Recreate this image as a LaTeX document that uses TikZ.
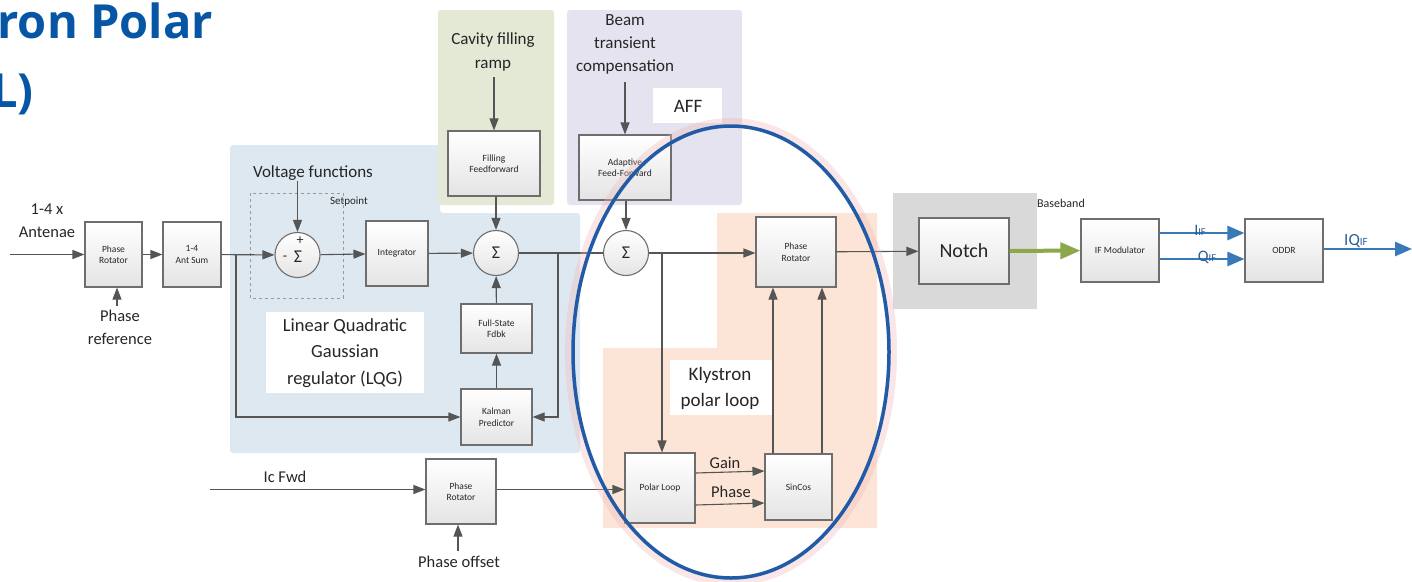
\documentclass[tikz,border=0pt]{standalone}
\usepackage{fontspec}
\setmainfont{Carlito}
\newfontfamily\titlefont{Open Sans}
\usetikzlibrary{arrows.meta,calc}
\definecolor{bgblue}{HTML}{DEE8F1}
\definecolor{bggreen}{HTML}{E3E9D5}
\definecolor{bgpurple}{HTML}{E5E3EF}
\definecolor{bgorange}{HTML}{FCE5D7}
\definecolor{bggray}{HTML}{D9D9D9}
\definecolor{titleblue}{HTML}{0756A5}
\definecolor{ellblue}{HTML}{1F5BA6}
\definecolor{glowpink}{HTML}{F2B8B8}
\definecolor{grn}{HTML}{8CA84A}
\definecolor{iqblue}{HTML}{3A79B8}
\definecolor{iqtext}{HTML}{2C5F95}
\definecolor{boxline}{HTML}{6E6E6E}
\definecolor{boxbot}{HTML}{E4E4E4}
\definecolor{arrc}{HTML}{555555}
\definecolor{txt}{HTML}{262626}
\tikzset{
  blk/.style={draw=boxline, line width=1.1pt, top color=white, bottom color=boxbot, align=center, inner sep=0pt, text=txt, font=\fontsize{9.5}{11.5}\selectfont},
  sumc/.style={circle, draw=boxline, line width=1.1pt, top color=white, bottom color=boxbot, minimum size=45pt, inner sep=0pt, text=txt, font=\fontsize{18}{20}\selectfont},
  arr/.style={draw=arrc, line width=1.1pt, -{Triangle[length=12pt,width=9pt]}},
  ln/.style={draw=arrc, line width=1.1pt},
  lbl/.style={align=center, text=txt, inner sep=0pt, font=\fontsize{16.5}{23}\selectfont},
  iqarr/.style={draw=iqblue, line width=2.6pt, -{Triangle[length=17pt,width=14pt]}},
  iqlbl/.style={text=iqtext, inner sep=0pt, font=\fontsize{16}{18}\selectfont},
}
\begin{document}
\begin{tikzpicture}[x=1pt,y=-1pt]
\useasboundingbox (0,0) rectangle (1412,581);
% backgrounds
\fill[bgblue, rounded corners=3pt] (230,145) -- (440,145) -- (440,213) -- (580,213) -- (580,453) -- (230,453) -- cycle;
\fill[bggreen, rounded corners=3pt] (438,10) rectangle (554,205);
\fill[bgpurple, rounded corners=3pt] (567,10) rectangle (742,205);
\fill[bgorange] (717,213) -- (877,213) -- (877,528) -- (603,528) -- (603,348) -- (717,348) -- cycle;
\fill[bggray] (893,193) rectangle (1037,309);
\fill[white] (266,312) rectangle (424,393);
\fill[white] (670,360) rectangle (772,415);
\fill[white] (653,88) rectangle (722,123);
% title
\node[anchor=base east, inner sep=0pt, text=titleblue, font=\titlefont\bfseries\fontsize{47}{56}\selectfont] (t1) at (213,38) {ron Polar};
\node[anchor=base east, inner sep=0pt, text=titleblue, font=\titlefont\bfseries\fontsize{47}{56}\selectfont] (t2) at (34,107) {L)};
% labels
\node[lbl] (ant4) at (47,221) {1-4 x\\Antenae};
\node[lbl] (pref) at (120,327) {Phase\\reference};
\node[lbl, font=\fontsize{17}{20}\selectfont] (vf) at (313,173) {Voltage functions};
\node[lbl, font=\fontsize{11}{13}\selectfont] (setp) at (349,202) {Setpoint};
\node[lbl, font=\fontsize{17}{24}\selectfont] (cav) at (493,52) {Cavity filling\\ramp};
\node[lbl, font=\fontsize{17}{23}\selectfont] (beam) at (625,44) {Beam\\transient\\compensation};
\node[lbl, font=\fontsize{19}{22}\selectfont] (affl) at (688,106) {AFF};
\node[lbl, font=\fontsize{18.5}{26.5}\selectfont] (lqg) at (345,353) {Linear Quadratic\\Gaussian\\regulator (LQG)};
\node[lbl, font=\fontsize{19}{26}\selectfont] (kpl) at (720,388) {Klystron\\polar loop};
\node[lbl, font=\fontsize{12}{14}\selectfont] (bb) at (1061,203) {Baseband};
\node[lbl] (icf) at (285,477) {Ic Fwd};
\node[lbl] (poff) at (459,562) {Phase offset};
\node[lbl] (gain) at (725,463) {Gain};
\node[lbl] (phs) at (731,492) {Phase};
% dashed setpoint box
\draw[gray!80, dashed, line width=0.8pt] (250,193) rectangle (343,298);
% blocks
\node[blk, minimum width=57pt, minimum height=65pt] (pr1) at (113.5,254.5) {Phase\\Rotator};
\node[blk, minimum width=58pt, minimum height=65pt] (ants) at (192,254.5) {1-4\\Ant Sum};
\node[sumc] (s1) at (297.5,255) {};
\node[inner sep=0pt, text=txt, font=\fontsize{18}{20}\selectfont] (s1sig) at (298,257) {Σ};
\node[inner sep=0pt, text=txt, font=\fontsize{14}{16}\selectfont] (s1p) at (300,241) {+};
\node[inner sep=0pt, text=txt, font=\fontsize{14}{16}\selectfont] (s1m) at (285,258) {-};
\node[blk, minimum width=62pt, minimum height=65pt] (int) at (397,253.5) {Integrator};
\node[sumc] (s2) at (496,253) {Σ};
\node[blk, minimum width=92pt, minimum height=65pt] (ffw) at (494,163.5) {Filling\\Feedforward};
\node[blk, minimum width=71pt, minimum height=49pt] (fsf) at (496.5,328.5) {Full-State\\Fdbk};
\node[blk, minimum width=71pt, minimum height=56pt] (kal) at (496.5,417) {Kalman\\Predictor};
\node[sumc] (s3) at (626,253) {Σ};
\node[blk, minimum width=92pt, minimum height=65pt] (aff) at (625,167.5) {Adaptive\\Feed-Forward};
\node[blk, minimum width=80pt, minimum height=70pt] (pr2) at (796,252) {Phase\\Rotator};
\node[blk, minimum width=70pt, minimum height=70pt] (pol) at (660,488) {Polar Loop};
\node[blk, minimum width=67pt, minimum height=66pt] (sc) at (798.5,487) {SinCos};
\node[blk, minimum width=90pt, minimum height=66pt, font=\fontsize{20}{24}\selectfont] (notch) at (964,251) {Notch};
\node[blk, minimum width=78pt, minimum height=63pt] (ifm) at (1120,250.5) {IF Modulator};
\node[blk, minimum width=78pt, minimum height=63pt] (oddr) at (1284,250.5) {ODDR};
\node[blk, minimum width=70pt, minimum height=65pt] (pr3) at (461,491.5) {Phase\\Rotator};
% coordinates
\coordinate (in1) at (10,254.5);
\coordinate (j1) at (236,254.5);
\coordinate (j2) at (558,253);
\coordinate (j3) at (662,253);
\coordinate (out) at (1412,249);
\coordinate (icin) at (210,489.5);
% connectors
\draw[arr] (in1) -- (pr1);
\draw[arr] ($(pref.north)+(-3,-4)$) -- (pr1.south -| {$(pref.north)+(-3,-4)$});
\draw[arr] (pr1) -- (ants);
\draw[arr] (ants) -- (s1);
\draw[arr] (j1) |- (kal);
\draw[arr] (s1 |- vf.south) -- (s1);
\draw[arr] (s1) -- (int);
\draw[arr] (int) -- (s2);
\draw[arr] (cav.south -| ffw) ++(0,6) -- (ffw);
\draw[arr] (ffw.south -| s2) -- (s2);
\draw[arr] (kal) -- (fsf);
\draw[arr] (fsf) -- (s2);
\draw[ln] (s2) -- (s3);
\draw[arr] (j2) |- (kal);
\draw[arr] (beam.south -| aff) ++(0,8) -- (aff);
\draw[arr] (aff.south -| s3) -- (s3);
\draw[arr] (s3) -- (pr2.west |- s3);
\draw[arr] (j3) -- (j3 |- pol.north);
\draw[arr] ([yshift=-17pt]pol.east) -- ([yshift=-16pt]sc.west);
\draw[arr] ([yshift=15pt]pol.east) -- ([yshift=16pt]sc.west);
\draw[arr] ([xshift=-25.5pt]sc.north) -- ([xshift=-23pt]pr2.south);
\draw[arr] ([xshift=23.5pt]sc.north) -- ([xshift=26pt]pr2.south);
\draw[arr] (pr2) -- (notch);
\draw[draw=grn, line width=4pt, -{Triangle[length=20pt,width=16pt]}] (notch) -- (ifm);
\draw[iqarr] ([yshift=-8.5pt]ifm.east) -- ([yshift=-8.5pt]oddr.west);
\draw[iqarr] ([yshift=17.5pt]ifm.east) -- ([yshift=17.5pt]oddr.west);
\draw[iqarr] (oddr.east |- out) -- (out);
\node[iqlbl] (iif) at (1200,230) {I{\fontsize{10.5}{12}\selectfont IF}};
\node[iqlbl] (qif) at (1207,257) {Q{\fontsize{10.5}{12}\selectfont IF}};
\node[iqlbl, font=\fontsize{17}{19}\selectfont] (iqif) at (1356,241) {IQ{\fontsize{11}{12}\selectfont IF}};
\draw[arr] (icin) -- (pr3.west |- icin);
\draw[arr] ($(poff.north)+(-1,-5)$) -- (pr3.south -| {$(poff.north)+(-1,-5)$});
\draw[arr] (pr3.east |- icin) -- (pol.west |- icin);
% ellipse with glow
\draw[glowpink, line width=10pt, opacity=0.35] (731,352) ellipse [x radius=161pt, y radius=229pt];
\draw[ellblue, line width=3.5pt] (731,352) ellipse [x radius=158pt, y radius=226pt];
\end{tikzpicture}
\end{document}
